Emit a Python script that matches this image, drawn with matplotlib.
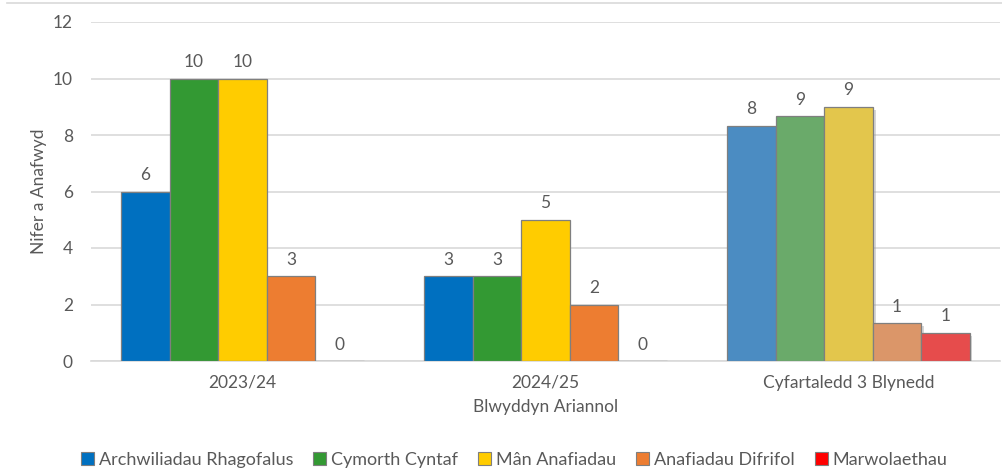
import numpy as np
import matplotlib
matplotlib.use("Agg")
from matplotlib import pyplot as plt
from matplotlib.lines import Line2D
from matplotlib.patches import Patch
import matplotlib.patheffects as pe

plt.rcParams['font.family'] = ['Lato', 'DejaVu Sans']

categories = ['2023/24', '2024/25', 'Cyfartaledd 3 Blynedd']
series_names = ['Archwiliadau Rhagofalus', 'Cymorth Cyntaf', 'Mân Anafiadau',
                'Anafiadau Difrifol', 'Marwolaethau']
archwiliadau = [6, 3, 8.33]
cymorth = [10, 3, 8.67]
man_anafiadau = [10, 5, 9]
difrifol = [3, 2, 1.33]
marwolaethau = [0, 0, 1]
values = [archwiliadau, cymorth, man_anafiadau, difrifol, marwolaethau]

colors = ['#0070C0', '#339933', '#FFCC00', '#ED7D31', '#FF0000']
# the average group is drawn in softer shades
avg_colors = ['#4B8CC2', '#6AAA6A', '#E3C64C', '#DB9669', '#E64C4C']

text_col = '#595959'
grid_col = '#D9D9D9'

fig = plt.figure(figsize=(10.02, 4.74), dpi=100)
ax = fig.add_axes([91 / 1002, 1 - 361 / 474, 909 / 1002, 339 / 474])

x = np.arange(len(categories))
w = 0.16
for i, vals in enumerate(values):
    pos = x + (i - 2) * w
    cols = [colors[i], colors[i], avg_colors[i]]
    bars = ax.bar(pos, vals, w, color=cols, edgecolor='#7F7F7F', linewidth=0.9, zorder=3)
    bars[2].set_path_effects([pe.SimplePatchShadow(offset=(2, -2), shadow_rgbFace='#999999', alpha=0.4), pe.Normal()])
    ax.bar_label(bars, labels=[f'{v:.0f}' for v in vals], padding=6,
                 color=text_col, fontsize=12.5)

ax.set_ylim(0, 12)
ax.set_xlim(-0.5, 2.5)
ax.set_yticks(np.arange(0, 13, 2))
ax.set_xticks(x)
ax.set_xticklabels(categories)
ax.tick_params(axis='both', length=0, colors=text_col, labelsize=12.5)
ax.tick_params(axis='y', pad=13)
ax.tick_params(axis='x', pad=10)
ax.yaxis.grid(True, color=grid_col, linewidth=1.2, zorder=0)
for s in ['top', 'right', 'left']:
    ax.spines[s].set_visible(False)
ax.spines['bottom'].set_color(grid_col)
ax.spines['bottom'].set_linewidth(1.2)

ax.set_ylabel('Nifer a Anafwyd', color=text_col, fontsize=12.5, labelpad=4)
ax.set_xlabel('Blwyddyn Ariannol', color=text_col, fontsize=12.5, labelpad=6)

handles = [Patch(facecolor=c, edgecolor='#7F7F7F', linewidth=0.8) for c in colors]
fig.legend(handles, series_names, loc='center', bbox_to_anchor=(514 / 1002, 1 - 460 / 474),
           ncol=5, frameon=False, fontsize=13, handlelength=0.75, handleheight=0.75,
           handletextpad=0.25, columnspacing=1.1, labelcolor=text_col)

fig.add_artist(Line2D([0.007, 1], [1 - 3 / 474, 1 - 3 / 474], color=grid_col,
                      linewidth=1.2, transform=fig.transFigure))

fig.savefig('out.png', dpi=100)
